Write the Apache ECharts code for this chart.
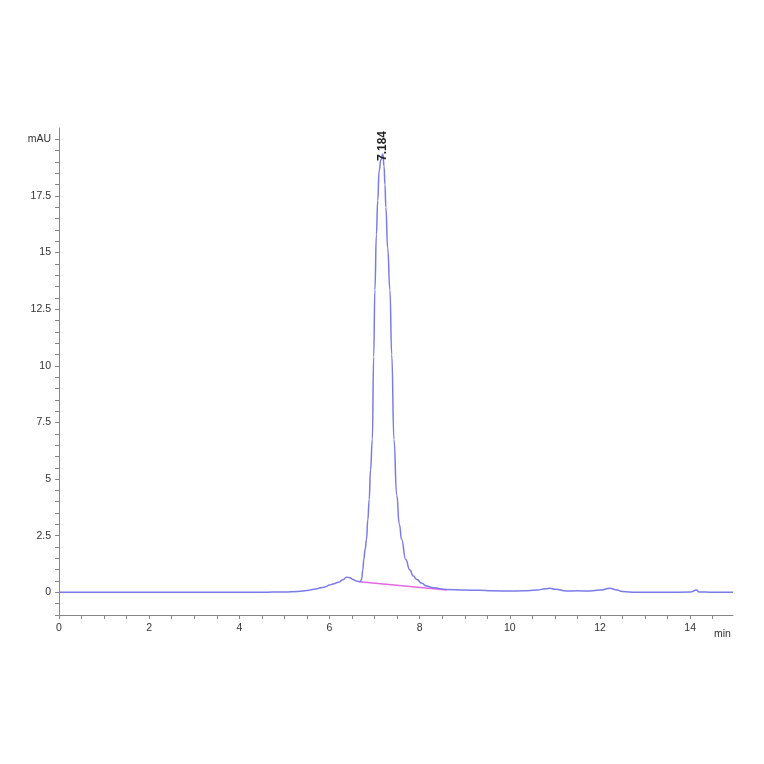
<!DOCTYPE html>
<html>
<head>
<meta charset="utf-8">
<script src="https://cdn.jsdelivr.net/npm/echarts@6/dist/echarts.min.js"></script>
<style>html,body{margin:0;padding:0;background:#fff;}#c{width:764px;height:764px;}</style>
</head>
<body>
<div id="c"></div>
<script>
// Retention time (min)
const timeMin = [0, 1, 2, 3, 4, 4.5, 5.0, 5.3, 5.5, 5.6, 5.7, 5.8, 5.9, 6.0, 6.1, 6.2, 6.3, 6.38, 6.45, 6.52, 6.6, 6.67,
  6.71, 6.74, 6.76, 6.79, 6.82, 6.85, 6.88, 6.91, 6.95, 6.98, 7.007, 7.04, 7.07, 7.1, 7.14, 7.184, 7.21, 7.23, 7.25,
  7.29, 7.34, 7.38, 7.43, 7.49, 7.55, 7.6, 7.69, 7.78, 7.86, 7.93, 8.05, 8.15, 8.3, 8.6, 9.0, 9.33, 9.6, 10.0, 10.3,
  10.6, 10.8, 10.89, 11.0, 11.26, 11.5, 11.78, 12.0, 12.22, 12.35, 12.5, 12.8, 13.5, 14.0, 14.14, 14.2, 14.5, 14.95];
// Absorbance (mAU)
const signal = [0, 0, 0, 0, 0, 0, 0.02, 0.04, 0.08, 0.12, 0.15, 0.2, 0.24, 0.32, 0.38, 0.45, 0.56, 0.67, 0.65, 0.57, 0.5, 0.47,
  0.55, 1.0, 1.45, 1.9, 2.33, 3.2, 4.1, 5.4, 6.74, 10.4, 13.35, 15.8, 17.3, 18.6, 19.1, 19.35, 18.8, 18.0, 17.0,
  15.2, 13.35, 10.5, 6.74, 4.3, 3.0, 2.33, 1.45, 1.0, 0.72, 0.58, 0.4, 0.28, 0.2, 0.13, 0.1, 0.09, 0.07, 0.06, 0.07,
  0.1, 0.16, 0.18, 0.14, 0.06, 0.07, 0.06, 0.1, 0.18, 0.12, 0.04, 0.0, 0, 0.01, 0.1, 0.02, 0, 0];
// Integration baseline
const baseTime = [6.67, 8.6];
const baseSignal = [0.47, 0.1];
const peakLabel = '7.184';
const peakTime = 7.184;

const traceData = timeMin.map((t, i) => {
  const p = { value: [t, signal[i]] };
  if (t === peakTime) {
    p.symbol = 'circle';
    p.symbolSize = 0.1;
    p.label = { show: true, formatter: peakLabel, rotate: 90, position: 'top', distance: -4, offset: [12, 6],
      color: '#222', fontSize: 12, fontFamily: 'Liberation Sans', fontWeight: 'bold' };
  }
  return p;
});
const baseData = baseTime.map((t, i) => [t, baseSignal[i]]);

const chart = echarts.init(document.getElementById('c'));
const axisLbl = { color: '#333', fontSize: 10.5, fontFamily: 'Liberation Sans' };
chart.setOption({
  animation: false,
  grid: { left: 59, right: 31, top: 128, bottom: 149 },
  xAxis: {
    type: 'value', min: 0, max: 14.95, interval: 0.5,
    axisLine: { onZero: false, lineStyle: { color: '#888', width: 1 } },
    axisTick: { length: 4, lineStyle: { color: '#888' } },
    splitLine: { show: false },
    axisLabel: Object.assign({ margin: 8, showMaxLabel: false,
      formatter: v => (Math.abs(v % 2) < 1e-6 ? String(v) : '') }, axisLbl),
    name: 'min', nameLocation: 'end', nameGap: -19,
    nameTextStyle: Object.assign({ verticalAlign: 'top', padding: [14, 0, 0, 0] }, axisLbl)
  },
  yAxis: {
    type: 'value', min: -1, max: 20.5, interval: 0.5,
    axisLine: { show: true, lineStyle: { color: '#888', width: 1 } },
    axisTick: { show: true, length: 4, lineStyle: { color: '#888' } },
    splitLine: { show: false },
    axisLabel: Object.assign({ margin: 8, showMaxLabel: false,
      formatter: v => (v === 20 ? 'mAU' : (v >= 0 && Math.abs(v % 2.5) < 1e-6 ? String(v) : '')) }, axisLbl)
  },
  series: [
    { type: 'line', data: baseData, symbol: 'none', lineStyle: { color: '#e46ae4', width: 1.5 }, z: 2 },
    { type: 'line', data: traceData, symbol: 'none', showSymbol: true, smooth: 0.5, smoothMonotone: 'x',
      lineStyle: { color: '#7b7be8', width: 1.5 }, z: 3 }
  ]
});
</script>
</body>
</html>
